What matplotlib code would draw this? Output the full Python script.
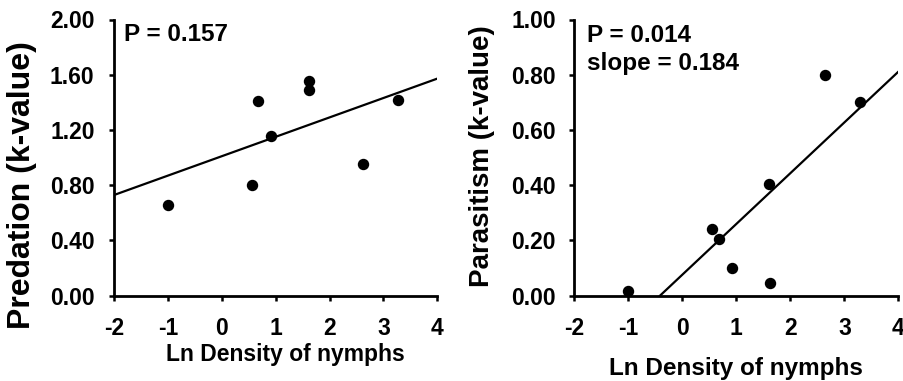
import numpy as np
import matplotlib
matplotlib.use("Agg")
import matplotlib.pyplot as plt

# predation panel
pred_x = [-1.0, 0.56, 0.67, 0.91, 1.61, 1.61, 2.63, 3.27]
pred_y = [0.66, 0.80, 1.41, 1.16, 1.555, 1.49, 0.953, 1.42]
pred_slope = 0.1405
pred_intercept = 1.01
pred_text = ["P = 0.157"]

# parasitism panel
para_x = [-1.0, 0.56, 0.69, 0.92, 1.61, 1.62, 2.64, 3.28]
para_y = [0.018, 0.243, 0.204, 0.101, 0.406, 0.045, 0.80, 0.70]
para_slope = 0.184
para_intercept = 0.0755
para_text = ["P = 0.014", "slope = 0.184"]

x_ticks = [-2, -1, 0, 1, 2, 3, 4]
pred_ticks = [0.0, 0.4, 0.8, 1.2, 1.6, 2.0]
para_ticks = [0.0, 0.2, 0.4, 0.6, 0.8, 1.0]

plt.rcParams['font.family'] = ['Liberation Sans', 'DejaVu Sans']
plt.rcParams['font.weight'] = 'bold'

W, H = 904, 381
fig = plt.figure(figsize=(W / 100, H / 100), dpi=100)


def setup(ax, yticks, ylabel, ylab_size, ylab_pos, xlab_size, xlab_pos, ypad):
    ax.set_xlim(-2, 4)
    ax.set_ylim(yticks[0], yticks[-1])
    ax.set_xticks(x_ticks)
    ax.set_xticklabels([str(t) for t in x_ticks])
    ax.set_yticks(yticks)
    ax.set_yticklabels(["%.2f" % t for t in yticks])
    for s in ['top', 'right']:
        ax.spines[s].set_visible(False)
    for s in ['left', 'bottom']:
        ax.spines[s].set_linewidth(2.0)
        ax.spines[s].set_capstyle('projecting')
    ax.tick_params(axis='both', direction='out', length=3.5, width=1.8,
                   labelsize=16.5)
    ax.tick_params(axis='x', pad=12)
    ax.tick_params(axis='y', pad=ypad)
    ax.set_ylabel(ylabel, fontsize=ylab_size, fontweight='bold', va='center')
    ax.yaxis.set_label_coords(*ylab_pos)
    ax.set_xlabel("Ln Density of nymphs", fontsize=xlab_size,
                  fontweight='bold', va='baseline')
    ax.xaxis.set_label_coords(*xlab_pos)
    for lab in ax.get_xticklabels() + ax.get_yticklabels():
        lab.set_fontweight('bold')


# left panel
ax1 = fig.add_axes([114 / W, 1 - 295.7 / H, 323.3 / W, 276.2 / H])
setup(ax1, pred_ticks, "Predation (k-value)", 23, (-0.285, 0.40),
      16.5, (0.529, -0.237), 10.5)
ax1.plot(pred_x, pred_y, 'o', color='black', ms=7.2, clip_on=False)
lx = np.array([-2, 4])
ax1.plot(lx, pred_intercept + pred_slope * lx, color='black', lw=1.6)
ax1.text(0.031, 0.922, pred_text[0], transform=ax1.transAxes,
         fontsize=17.5, fontweight='bold', va='baseline', ha='left')

# right panel
ax2 = fig.add_axes([574 / W, 1 - 295.7 / H, 324.5 / W, 276.2 / H])
setup(ax2, para_ticks, "Parasitism (k-value)", 20, (-0.282, 0.505),
      17.5, (0.50, -0.287), 9.5)
ax2.plot(para_x, para_y, 'o', color='black', ms=7.2, clip_on=False)
rx = np.array([-para_intercept / para_slope, 4])
ax2.plot(rx, para_intercept + para_slope * rx, color='black', lw=1.6)
for txt, yy in zip(para_text, [0.92, 0.817]):
    ax2.text(0.039, yy, txt, transform=ax2.transAxes,
             fontsize=17.5, fontweight='bold', va='baseline', ha='left')

fig.savefig("out.png", dpi=100)
